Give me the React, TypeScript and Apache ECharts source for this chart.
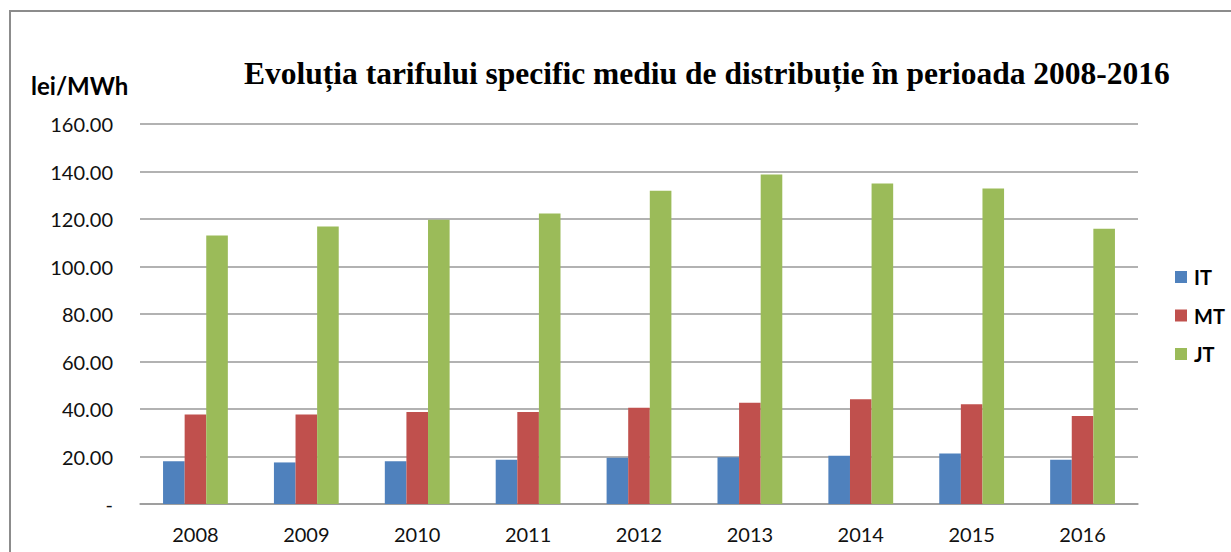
import React, { useEffect, useRef } from "react";
import * as echarts from "echarts";

const categories = ["2008", "2009", "2010", "2011", "2012", "2013", "2014", "2015", "2016"];
const itValues = [18.0, 17.5, 18.0, 18.6, 19.5, 19.7, 20.3, 21.3, 18.6];
const mtValues = [37.7, 37.7, 38.7, 38.7, 40.5, 42.6, 44.1, 42.0, 37.1];
const jtValues = [113.1, 116.8, 119.7, 122.3, 131.9, 138.7, 134.9, 132.8, 115.9];
const yTicks = { min: 0, max: 160, interval: 20 };
const titleText = "Evoluția tarifului specific mediu de distribuție în perioada 2008-2016";
const unitText = "lei/MWh";

const sans = "Lato, 'Open Sans', sans-serif";

export default function App() {
  const ref = useRef<HTMLDivElement>(null);
  useEffect(() => {
    document.body.style.margin = "0";
    const chart = echarts.init(ref.current!, null, { renderer: "svg" });
    chart.setOption({
      animation: false,
      backgroundColor: "#ffffff",
      title: [
        {
          text: titleText,
          left: 239,
          top: 52,
          textStyle: { fontFamily: "'Liberation Serif', 'Times New Roman', serif", fontWeight: "bold", fontSize: 31.5, color: "#000" },
        },
        {
          text: unitText,
          left: 26,
          top: 68,
          textStyle: { fontFamily: sans, fontWeight: "bold", fontSize: 24, color: "#000" },
        },
      ],
      graphic: [
        {
          type: "rect",
          shape: { x: 10, y: 11, width: 1400, height: 800 },
          style: { fill: "none", stroke: "#8c8c8c", lineWidth: 2 },
          silent: true,
        },
      ],
      legend: {
        orient: "vertical",
        left: 1170,
        top: 262,
        itemWidth: 12,
        itemHeight: 12,
        itemGap: 18.5,
        icon: "rect",
        textStyle: { fontFamily: sans, fontWeight: "bold", fontSize: 20, lineHeight: 20, color: "#000", padding: [0, 0, 0, 2] },
        data: ["IT", "MT", "JT"],
      },
      grid: { left: 140, right: 93, top: 124, bottom: 48, containLabel: false },
      xAxis: {
        type: "category",
        data: categories,
        axisLine: { lineStyle: { color: "#999", width: 1.5 } },
        axisTick: { show: false },
        axisLabel: { fontFamily: sans, fontSize: 20, color: "#111", margin: 20 },
      },
      yAxis: {
        type: "value",
        min: yTicks.min,
        max: yTicks.max,
        interval: yTicks.interval,
        axisLine: { show: false },
        axisTick: { show: false },
        splitLine: { lineStyle: { color: "#999", width: 1.5 } },
        axisLabel: {
          fontFamily: sans,
          fontSize: 20,
          color: "#111",
          margin: 27,
          formatter: (v: number) => (v === 0 ? "-" : v.toFixed(2)),
        },
      },
      series: [
        { name: "IT", type: "bar", data: itValues, barWidth: 21.6, barGap: "0%", itemStyle: { color: "#4F81BD" } },
        { name: "MT", type: "bar", data: mtValues, barWidth: 21.6, barGap: "0%", itemStyle: { color: "#C0504D" } },
        { name: "JT", type: "bar", data: jtValues, barWidth: 21.6, barGap: "0%", itemStyle: { color: "#9BBB59" } },
      ],
    });
    return () => chart.dispose();
  }, []);
  return <div ref={ref} style={{ width: 1231, height: 552 }} />;
}
